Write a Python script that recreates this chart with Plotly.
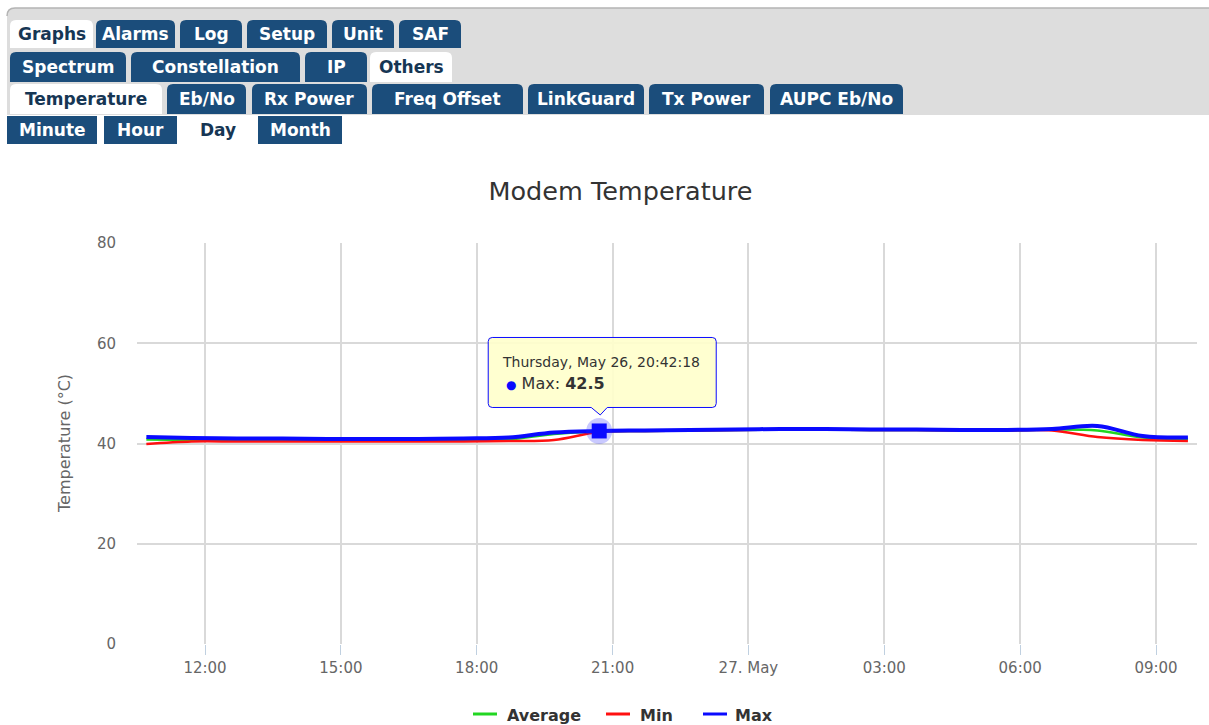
import plotly.graph_objects as go
from datetime import datetime

W, H = 1209, 725

# ---- data -------------------------------------------------------------
times = [
    "2016-05-26 10:42:18", "2016-05-26 11:42:18", "2016-05-26 12:42:18",
    "2016-05-26 13:42:18", "2016-05-26 14:42:18", "2016-05-26 15:42:18",
    "2016-05-26 16:42:18", "2016-05-26 17:42:18", "2016-05-26 18:42:18",
    "2016-05-26 19:42:18", "2016-05-26 20:42:18", "2016-05-26 21:42:18",
    "2016-05-26 22:42:18", "2016-05-26 23:42:18", "2016-05-27 00:42:18",
    "2016-05-27 01:42:18", "2016-05-27 02:42:18", "2016-05-27 03:42:18",
    "2016-05-27 04:42:18", "2016-05-27 05:42:18", "2016-05-27 06:42:18",
    "2016-05-27 07:42:18", "2016-05-27 08:42:18", "2016-05-27 09:42:18",
]
avg_vals = [40.8, 40.7, 40.7, 40.7, 40.6, 40.6, 40.6, 40.7, 40.8, 41.9, 42.4, 42.5,
            42.6, 42.7, 42.8, 42.8, 42.7, 42.7, 42.6, 42.6, 42.8, 42.6, 41.2, 40.9]
min_vals = [39.9, 40.4, 40.4, 40.4, 40.4, 40.4, 40.4, 40.4, 40.5, 40.7, 42.3, 42.5,
            42.6, 42.7, 42.8, 42.8, 42.7, 42.7, 42.6, 42.6, 42.6, 41.3, 40.7, 40.5]
max_vals = [41.3, 41.1, 41.0, 41.0, 40.9, 40.9, 40.9, 41.0, 41.2, 42.2, 42.5, 42.6,
            42.7, 42.8, 42.9, 42.9, 42.8, 42.8, 42.7, 42.7, 42.9, 43.5, 41.5, 41.2]

series_names = ["Average", "Min", "Max"]
series_colors = ["#22d622", "#ff1010", "#0a0aff"]

x_tickvals = ["2016-05-26 12:00", "2016-05-26 15:00", "2016-05-26 18:00",
              "2016-05-26 21:00", "2016-05-27 00:00", "2016-05-27 03:00",
              "2016-05-27 06:00", "2016-05-27 09:00"]
x_ticktext = ["12:00", "15:00", "18:00", "21:00", "27. May", "03:00", "06:00", "09:00"]
y_tickvals = [0, 20, 40, 60, 80]

hover_index = 10  # the highlighted Max sample

# navigation tabs: (label, left, right, active)
tab_rows = [
    ((20, 48), True, [("Graphs", 10, 93, True), ("Alarms", 96, 175, False),
                      ("Log", 180, 242, False), ("Setup", 247, 327, False),
                      ("Unit", 332, 394, False), ("SAF", 399, 461, False)]),
    ((52, 82), True, [("Spectrum", 10, 126, False), ("Constellation", 131, 300, False),
                      ("IP", 305, 367, False), ("Others", 370, 452, True)]),
    ((84, 114), True, [("Temperature", 10, 162, True), ("Eb/No", 167, 246, False),
                       ("Rx Power", 252, 367, False), ("Freq Offset", 372, 523, False),
                       ("LinkGuard", 528, 644, False), ("Tx Power", 649, 764, False),
                       ("AUPC Eb/No", 770, 903, False)]),
    ((116, 144), False, [("Minute", 7, 97, False), ("Hour", 104, 177, False),
                         ("Day", 182, 253, True), ("Month", 258, 342, False)]),
]

TAB_BLUE = "#1b4d7b"
TAB_TEXT_ACTIVE = "#163654"
PANEL_GRAY = "#dddddd"
FONT = "DejaVu Sans"


def P(x, y):
    return f"{x / W:.6f},{1 - y / H:.6f}"


def tab_path(x0, x1, y0, y1, r):
    if r == 0:
        return f"M{P(x0, y1)} L{P(x0, y0)} L{P(x1, y0)} L{P(x1, y1)} Z"
    return (f"M{P(x0, y1)} L{P(x0, y0 + r)} Q{P(x0, y0)} {P(x0 + r, y0)} "
            f"L{P(x1 - r, y0)} Q{P(x1, y0)} {P(x1, y0 + r)} L{P(x1, y1)} Z")


fig = go.Figure()

# ---- series -----------------------------------------------------------
for name, vals, color, width in zip(series_names, [avg_vals, min_vals, max_vals],
                                    series_colors, [2.5, 2.5, 4]):
    fig.add_trace(go.Scatter(
        x=times, y=vals, name=name, mode="lines",
        line=dict(color=color, width=width, shape="spline", smoothing=1.0),
        hoverinfo="skip", showlegend=False,
    ))

# hovered point: halo + square marker
hx, hy = times[hover_index], max_vals[hover_index]
fig.add_trace(go.Scatter(
    x=[hx], y=[hy], mode="markers", hoverinfo="skip", showlegend=False,
    marker=dict(symbol="circle", size=26, color="rgba(40,40,255,0.25)", line=dict(width=0)),
))
fig.add_trace(go.Scatter(
    x=[hx], y=[hy], mode="markers", hoverinfo="skip", showlegend=False,
    marker=dict(symbol="square", size=15, color=series_colors[2], line=dict(width=0)),
))

shapes = []
annotations = []

# ---- header panel with tabs ------------------------------------------
shapes.append(dict(type="path", xref="paper", yref="paper",
                   path=(f"M{P(7, 115)} L{P(7, 15)} Q{P(7, 8)} {P(14, 8)} "
                         f"L{P(W, 8)} L{P(W, 115)} Z"),
                   fillcolor=PANEL_GRAY, line=dict(width=0), layer="above"))
shapes.append(dict(type="path", xref="paper", yref="paper",
                   path=f"M{P(7, 16)} Q{P(7, 8)} {P(15, 8)} L{P(W, 8)}",
                   line=dict(color="#b4b4b4", width=1.5), layer="above"))

for (y0, y1), rounded, tabs in tab_rows:
    for label, x0, x1, active in tabs:
        fill = "#ffffff" if active else TAB_BLUE
        shapes.append(dict(type="path", xref="paper", yref="paper",
                           path=tab_path(x0, x1, y0, y1, 6 if rounded else 0),
                           fillcolor=fill, line=dict(width=0), layer="above"))
        annotations.append(dict(
            text=label, xref="paper", yref="paper",
            x=(x0 + x1) / 2 / W, y=1 - (y0 + y1) / 2 / H,
            xanchor="center", yanchor="middle", showarrow=False,
            font=dict(family=FONT, size=17, weight="bold",
                      color=TAB_TEXT_ACTIVE if active else "#ffffff"),
        ))

# ---- y axis title -----------------------------------------------------
annotations.append(dict(
    text="Temperature (°C)", xref="paper", yref="paper",
    x=65 / W, y=1 - 444 / H, xanchor="center", yanchor="middle",
    textangle=-90, showarrow=False, font=dict(family=FONT, size=16, color="#666666"),
))

# ---- tooltip ----------------------------------------------------------
tip_color = series_colors[2]
r = 4
bx0, bx1, by0, by1 = -111, 117, 23.5, 93.5  # box relative to the point (y up)
tip_path = (f"M{bx0 + r},{by1} L{bx1 - r},{by1} Q{bx1},{by1} {bx1},{by1 - r} "
            f"L{bx1},{by0 + r} Q{bx1},{by0} {bx1 - r},{by0} "
            f"L8,{by0} L1,16 L-8,{by0} "
            f"L{bx0 + r},{by0} Q{bx0},{by0} {bx0},{by0 + r} "
            f"L{bx0},{by1 - r} Q{bx0},{by1} {bx0 + r},{by1} Z")
shapes.append(dict(type="path", xref="x", yref="y", xsizemode="pixel", ysizemode="pixel",
                   xanchor=hx, yanchor=hy, path=tip_path,
                   fillcolor="rgba(255,255,204,0.92)", line=dict(color=tip_color, width=1),
                   layer="above"))

ts = datetime.strptime(hx, "%Y-%m-%d %H:%M:%S")
header = f"{ts.strftime('%A')}, {ts.strftime('%b')} {ts.day}, {ts.strftime('%H:%M:%S')}"
annotations.append(dict(
    text=header, xref="x", yref="y", x=hx, y=hy, xanchor="left", yanchor="middle",
    xshift=-99, yshift=68.5, showarrow=False,
    font=dict(family=FONT, size=14, color="#333333"),
))
annotations.append(dict(
    text=(f"<span style='color:{tip_color};font-size:12px'>●</span> "
          f"Max: <b>{max_vals[hover_index]}</b>"),
    xref="x", yref="y", x=hx, y=hy, xanchor="left", yanchor="middle",
    xshift=-95, yshift=47.5, showarrow=False,
    font=dict(family=FONT, size=16, color="#333333"),
))

# ---- legend -----------------------------------------------------------
legend_items = [(473, 505), (606, 638), (703, 733)]
for (sx, tx), name, color in zip(legend_items, series_names, series_colors):
    shapes.append(dict(type="line", xref="paper", yref="paper",
                       x0=sx / W, x1=(sx + 24) / W, y0=1 - 714 / H, y1=1 - 714 / H,
                       line=dict(color=color, width=3)))
    annotations.append(dict(
        text=name, xref="paper", yref="paper", x=tx / W, y=1 - 715 / H,
        xanchor="left", yanchor="middle", showarrow=False,
        font=dict(family=FONT, size=16, weight="bold", color="#333333"),
    ))

fig.update_layout(
    template="none",
    width=W, height=H,
    margin=dict(l=0, r=0, t=0, b=0, pad=0, autoexpand=False),
    paper_bgcolor="#ffffff", plot_bgcolor="#ffffff",
    showlegend=False,
    title=dict(text="Modem Temperature", x=620.5 / W, y=1 - 191 / H,
               xanchor="center", yanchor="middle",
               font=dict(family=FONT, size=25.5, color="#333333")),
    xaxis=dict(
        domain=[137 / W, 1197 / W], type="date",
        range=["2016-05-26 10:29:54", "2016-05-27 09:54:19"],
        tickvals=x_tickvals, ticktext=x_ticktext,
        showgrid=True, gridcolor="#d9d9d9", gridwidth=2,
        ticks="outside", ticklen=10, tickcolor="#c0d0e0", tickwidth=1,
        tickfont=dict(family=FONT, size=15, color="#666666"),
        zeroline=False, showline=False, fixedrange=True, automargin=False,
    ),
    yaxis=dict(
        domain=[1 - 644 / H, 1 - 243 / H], range=[0, 80],
        tickvals=y_tickvals, showgrid=True, gridcolor="#d9d9d9", gridwidth=2,
        ticks="", ticklabelstandoff=20,
        tickfont=dict(family=FONT, size=15, color="#666666"),
        zeroline=False, showline=False, fixedrange=True, automargin=False,
    ),
    shapes=shapes,
    annotations=annotations,
)

fig.write_html("out.html")
